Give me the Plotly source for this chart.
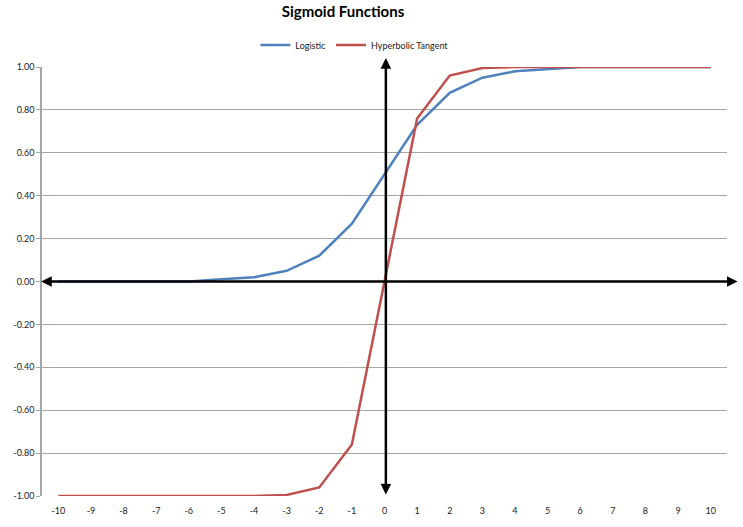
import plotly.graph_objects as go

x_vals = [-10, -9, -8, -7, -6, -5, -4, -3, -2, -1, 0, 1, 2, 3, 4, 5, 6, 7, 8, 9, 10]
logistic = [0.00, 0.00, 0.00, 0.00, 0.00, 0.01, 0.02, 0.05, 0.12, 0.27, 0.50,
            0.73, 0.88, 0.95, 0.98, 0.99, 1.00, 1.00, 1.00, 1.00, 1.00]
tanh_vals = [-1.00, -1.00, -1.00, -1.00, -1.00, -1.00, -1.00, -0.995, -0.96, -0.76, 0.00,
             0.76, 0.96, 0.995, 1.00, 1.00, 1.00, 1.00, 1.00, 1.00, 1.00]
y_ticks = [-1.0, -0.8, -0.6, -0.4, -0.2, 0.0, 0.2, 0.4, 0.6, 0.8, 1.0]

FONT = "Lato, 'Liberation Sans', sans-serif"

fig = go.Figure()
fig.add_trace(go.Scatter(x=x_vals, y=logistic, mode="lines", name="Logistic",
                         line=dict(color="#4F81BD", width=2.5), cliponaxis=False))
fig.add_trace(go.Scatter(x=x_vals, y=tanh_vals, mode="lines", name="Hyperbolic Tangent",
                         line=dict(color="#C0504D", width=2.5), cliponaxis=False))

fig.update_layout(
    width=743, height=527,
    margin=dict(l=42, r=16, t=67, b=31),
    paper_bgcolor="white", plot_bgcolor="white",
    font=dict(family=FONT, size=9, color="#1a1a1a"),
    title=dict(text="<b>Sigmoid Functions</b>", x=(343) / 743, xanchor="center",
               y=1 - 12 / 527, yanchor="middle",
               font=dict(family=FONT, size=15, color="black")),
    legend=dict(orientation="h", x=0.456, xanchor="center", y=1.051, yanchor="middle",
                font=dict(family=FONT, size=9, color="#1a1a1a"), bgcolor="rgba(0,0,0,0)",
                itemwidth=30),
    showlegend=True,
)

fig.update_xaxes(
    range=[-10.5, 10.5], tickmode="array", tickvals=x_vals,
    ticktext=[str(v) for v in x_vals], showgrid=False, zeroline=False,
    showline=False, ticks="", tickfont=dict(size=9, family=FONT, color="#1a1a1a"),
    ticklabelstandoff=8,
)
fig.update_yaxes(
    range=[-1.0, 1.0], tickmode="array", tickvals=y_ticks,
    ticktext=[f"{v:.2f}" for v in y_ticks], showgrid=True, gridcolor="#a6a6a6",
    gridwidth=1, zeroline=False, showline=True, linecolor="#a6a6a6", linewidth=1.5,
    ticks="outside", ticklen=4, tickcolor="#a6a6a6",
    tickfont=dict(size=9, family=FONT, color="#1a1a1a"),
)

# axis arrows (horizontal through y=0, vertical through x=0)
fig.add_annotation(xref="paper", yref="paper", x=(738 - 42) / 685.4, y=0.5,
                   axref="pixel", ayref="pixel", ax=-698, ay=0,
                   showarrow=True, arrowhead=2, startarrowhead=2, arrowside="end+start",
                   arrowsize=0.85, startarrowsize=0.85, arrowwidth=2.5, arrowcolor="black", text="")
fig.add_annotation(xref="paper", yref="paper", x=0.502, y=(496 - 58) / 429,
                   axref="pixel", ayref="pixel", ax=0, ay=438,
                   showarrow=True, arrowhead=2, startarrowhead=2, arrowside="end+start",
                   arrowsize=0.85, startarrowsize=0.85, arrowwidth=2.5, arrowcolor="black", text="")

fig.write_html("out.html")
